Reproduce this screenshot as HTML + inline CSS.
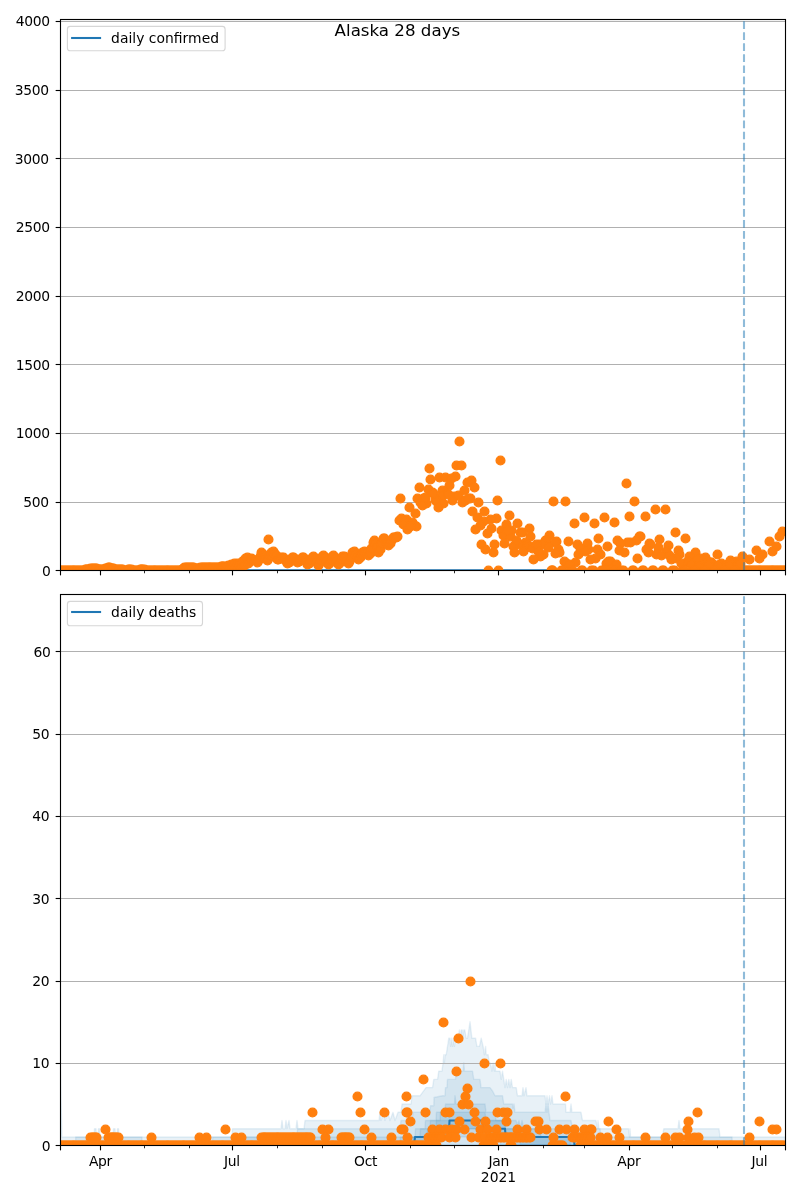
<!DOCTYPE html>
<html lang="en"><head><meta charset="utf-8"><title>Alaska 28 days</title>
<style>html,body{margin:0;padding:0;background:#fff;}svg{display:block;}text{font-family:"DejaVu Sans","Liberation Sans",sans-serif;fill:#000;}.t{letter-spacing:-0.38px}.m{letter-spacing:-0.3px}</style></head><body>
<svg width="800" height="1200" viewBox="0 0 800 1200">
<rect width="800" height="1200" fill="#fff"/>
<defs><clipPath id="c1"><rect x="60.2" y="19.4" width="725.1" height="550.8"/></clipPath><clipPath id="c2"><rect x="60.2" y="594.4" width="725.1" height="550.8"/></clipPath></defs>
<line x1="60.5" x2="785.5" y1="502.5" y2="502.5" stroke="#b0b0b0" stroke-width="1.11"/>
<line x1="60.5" x2="785.5" y1="433.5" y2="433.5" stroke="#b0b0b0" stroke-width="1.11"/>
<line x1="60.5" x2="785.5" y1="364.5" y2="364.5" stroke="#b0b0b0" stroke-width="1.11"/>
<line x1="60.5" x2="785.5" y1="296.5" y2="296.5" stroke="#b0b0b0" stroke-width="1.11"/>
<line x1="60.5" x2="785.5" y1="227.5" y2="227.5" stroke="#b0b0b0" stroke-width="1.11"/>
<line x1="60.5" x2="785.5" y1="158.5" y2="158.5" stroke="#b0b0b0" stroke-width="1.11"/>
<line x1="60.5" x2="785.5" y1="90.5" y2="90.5" stroke="#b0b0b0" stroke-width="1.11"/>
<line x1="60.5" x2="785.5" y1="21.5" y2="21.5" stroke="#b0b0b0" stroke-width="1.11"/>
<g clip-path="url(#c1)">
<line x1="60.5" x2="785.5" y1="570.2" y2="570.2" stroke="#1f77b4" stroke-width="2.08"/>
<g fill="#ff7f0e" stroke="#ff7f0e" stroke-width="1.39">
<circle cx="60.5" cy="570.5" r="4.36"/>
<circle cx="61.5" cy="570.5" r="4.36"/>
<circle cx="63.5" cy="570.5" r="4.36"/>
<circle cx="64.5" cy="570.5" r="4.36"/>
<circle cx="66.5" cy="570.5" r="4.36"/>
<circle cx="67.5" cy="570.5" r="4.36"/>
<circle cx="69.5" cy="570.5" r="4.36"/>
<circle cx="70.5" cy="570.5" r="4.36"/>
<circle cx="72.5" cy="570.5" r="4.36"/>
<circle cx="73.5" cy="570.5" r="4.36"/>
<circle cx="74.5" cy="570.5" r="4.36"/>
<circle cx="76.5" cy="570.5" r="4.36"/>
<circle cx="77.5" cy="570.5" r="4.36"/>
<circle cx="79.5" cy="570.5" r="4.36"/>
<circle cx="80.5" cy="570.5" r="4.36"/>
<circle cx="82.5" cy="570.5" r="4.36"/>
<circle cx="83.5" cy="570.5" r="4.36"/>
<circle cx="85.5" cy="569.5" r="4.36"/>
<circle cx="86.5" cy="569.5" r="4.36"/>
<circle cx="87.5" cy="569.5" r="4.36"/>
<circle cx="89.5" cy="569.5" r="4.36"/>
<circle cx="90.5" cy="568.5" r="4.36"/>
<circle cx="92.5" cy="568.5" r="4.36"/>
<circle cx="93.5" cy="568.5" r="4.36"/>
<circle cx="95.5" cy="568.5" r="4.36"/>
<circle cx="96.5" cy="568.5" r="4.36"/>
<circle cx="98.5" cy="569.5" r="4.36"/>
<circle cx="99.5" cy="569.5" r="4.36"/>
<circle cx="100.5" cy="569.5" r="4.36"/>
<circle cx="102.5" cy="569.5" r="4.36"/>
<circle cx="103.5" cy="569.5" r="4.36"/>
<circle cx="105.5" cy="568.5" r="4.36"/>
<circle cx="106.5" cy="568.5" r="4.36"/>
<circle cx="108.5" cy="567.5" r="4.36"/>
<circle cx="109.5" cy="567.5" r="4.36"/>
<circle cx="111.5" cy="568.5" r="4.36"/>
<circle cx="112.5" cy="568.5" r="4.36"/>
<circle cx="113.5" cy="568.5" r="4.36"/>
<circle cx="115.5" cy="569.5" r="4.36"/>
<circle cx="116.5" cy="569.5" r="4.36"/>
<circle cx="118.5" cy="569.5" r="4.36"/>
<circle cx="119.5" cy="569.5" r="4.36"/>
<circle cx="121.5" cy="569.5" r="4.36"/>
<circle cx="122.5" cy="569.5" r="4.36"/>
<circle cx="124.5" cy="570.5" r="4.36"/>
<circle cx="125.5" cy="570.5" r="4.36"/>
<circle cx="127.5" cy="570.5" r="4.36"/>
<circle cx="128.5" cy="569.5" r="4.36"/>
<circle cx="129.5" cy="569.5" r="4.36"/>
<circle cx="131.5" cy="569.5" r="4.36"/>
<circle cx="132.5" cy="570.5" r="4.36"/>
<circle cx="134.5" cy="570.5" r="4.36"/>
<circle cx="135.5" cy="570.5" r="4.36"/>
<circle cx="137.5" cy="570.5" r="4.36"/>
<circle cx="138.5" cy="570.5" r="4.36"/>
<circle cx="140.5" cy="569.5" r="4.36"/>
<circle cx="141.5" cy="569.5" r="4.36"/>
<circle cx="142.5" cy="569.5" r="4.36"/>
<circle cx="144.5" cy="569.5" r="4.36"/>
<circle cx="145.5" cy="570.5" r="4.36"/>
<circle cx="147.5" cy="570.5" r="4.36"/>
<circle cx="148.5" cy="570.5" r="4.36"/>
<circle cx="150.5" cy="570.5" r="4.36"/>
<circle cx="151.5" cy="570.5" r="4.36"/>
<circle cx="153.5" cy="570.5" r="4.36"/>
<circle cx="154.5" cy="570.5" r="4.36"/>
<circle cx="155.5" cy="570.5" r="4.36"/>
<circle cx="157.5" cy="570.5" r="4.36"/>
<circle cx="158.5" cy="570.5" r="4.36"/>
<circle cx="160.5" cy="570.5" r="4.36"/>
<circle cx="161.5" cy="570.5" r="4.36"/>
<circle cx="163.5" cy="570.5" r="4.36"/>
<circle cx="164.5" cy="570.5" r="4.36"/>
<circle cx="166.5" cy="570.5" r="4.36"/>
<circle cx="167.5" cy="570.5" r="4.36"/>
<circle cx="168.5" cy="570.5" r="4.36"/>
<circle cx="170.5" cy="570.5" r="4.36"/>
<circle cx="171.5" cy="570.5" r="4.36"/>
<circle cx="173.5" cy="570.5" r="4.36"/>
<circle cx="174.5" cy="570.5" r="4.36"/>
<circle cx="176.5" cy="570.5" r="4.36"/>
<circle cx="177.5" cy="570.5" r="4.36"/>
<circle cx="179.5" cy="570.5" r="4.36"/>
<circle cx="180.5" cy="570.5" r="4.36"/>
<circle cx="182.5" cy="569.5" r="4.36"/>
<circle cx="183.5" cy="568.5" r="4.36"/>
<circle cx="184.5" cy="567.5" r="4.36"/>
<circle cx="186.5" cy="567.5" r="4.36"/>
<circle cx="187.5" cy="567.5" r="4.36"/>
<circle cx="189.5" cy="567.5" r="4.36"/>
<circle cx="190.5" cy="567.5" r="4.36"/>
<circle cx="192.5" cy="567.5" r="4.36"/>
<circle cx="193.5" cy="567.5" r="4.36"/>
<circle cx="195.5" cy="568.5" r="4.36"/>
<circle cx="196.5" cy="568.5" r="4.36"/>
<circle cx="197.5" cy="568.5" r="4.36"/>
<circle cx="199.5" cy="568.5" r="4.36"/>
<circle cx="200.5" cy="567.5" r="4.36"/>
<circle cx="202.5" cy="567.5" r="4.36"/>
<circle cx="203.5" cy="567.5" r="4.36"/>
<circle cx="205.5" cy="567.5" r="4.36"/>
<circle cx="206.5" cy="567.5" r="4.36"/>
<circle cx="208.5" cy="567.5" r="4.36"/>
<circle cx="209.5" cy="567.5" r="4.36"/>
<circle cx="210.5" cy="567.5" r="4.36"/>
<circle cx="212.5" cy="567.5" r="4.36"/>
<circle cx="213.5" cy="567.5" r="4.36"/>
<circle cx="215.5" cy="567.5" r="4.36"/>
<circle cx="216.5" cy="567.5" r="4.36"/>
<circle cx="218.5" cy="567.5" r="4.36"/>
<circle cx="219.5" cy="567.5" r="4.36"/>
<circle cx="221.5" cy="566.5" r="4.36"/>
<circle cx="222.5" cy="566.5" r="4.36"/>
<circle cx="223.5" cy="566.5" r="4.36"/>
<circle cx="225.5" cy="566.5" r="4.36"/>
<circle cx="226.5" cy="568.5" r="4.36"/>
<circle cx="228.5" cy="565.5" r="4.36"/>
<circle cx="229.5" cy="568.5" r="4.36"/>
<circle cx="231.5" cy="564.5" r="4.36"/>
<circle cx="232.5" cy="567.5" r="4.36"/>
<circle cx="234.5" cy="563.5" r="4.36"/>
<circle cx="235.5" cy="567.5" r="4.36"/>
<circle cx="237.5" cy="563.5" r="4.36"/>
<circle cx="238.5" cy="567.5" r="4.36"/>
<circle cx="239.5" cy="564.5" r="4.36"/>
<circle cx="241.5" cy="567.5" r="4.36"/>
<circle cx="242.5" cy="561.5" r="4.36"/>
<circle cx="244.5" cy="565.5" r="4.36"/>
<circle cx="245.5" cy="558.5" r="4.36"/>
<circle cx="247.5" cy="557.5" r="4.36"/>
<circle cx="248.5" cy="563.5" r="4.36"/>
<circle cx="250.5" cy="560.5" r="4.36"/>
<circle cx="251.5" cy="558.5" r="4.36"/>
<circle cx="252.5" cy="559.5" r="4.36"/>
<circle cx="254.5" cy="560.5" r="4.36"/>
<circle cx="255.5" cy="560.5" r="4.36"/>
<circle cx="257.5" cy="562.5" r="4.36"/>
<circle cx="258.5" cy="560.5" r="4.36"/>
<circle cx="260.5" cy="556.5" r="4.36"/>
<circle cx="261.5" cy="552.5" r="4.36"/>
<circle cx="263.5" cy="554.5" r="4.36"/>
<circle cx="264.5" cy="556.5" r="4.36"/>
<circle cx="265.5" cy="558.5" r="4.36"/>
<circle cx="267.5" cy="560.5" r="4.36"/>
<circle cx="268.5" cy="558.5" r="4.36"/>
<circle cx="270.5" cy="555.5" r="4.36"/>
<circle cx="271.5" cy="552.5" r="4.36"/>
<circle cx="273.5" cy="551.5" r="4.36"/>
<circle cx="274.5" cy="553.5" r="4.36"/>
<circle cx="276.5" cy="555.5" r="4.36"/>
<circle cx="277.5" cy="559.5" r="4.36"/>
<circle cx="278.5" cy="559.5" r="4.36"/>
<circle cx="280.5" cy="558.5" r="4.36"/>
<circle cx="281.5" cy="557.5" r="4.36"/>
<circle cx="283.5" cy="557.5" r="4.36"/>
<circle cx="284.5" cy="559.5" r="4.36"/>
<circle cx="286.5" cy="561.5" r="4.36"/>
<circle cx="287.5" cy="563.5" r="4.36"/>
<circle cx="289.5" cy="562.5" r="4.36"/>
<circle cx="290.5" cy="559.5" r="4.36"/>
<circle cx="292.5" cy="557.5" r="4.36"/>
<circle cx="293.5" cy="557.5" r="4.36"/>
<circle cx="294.5" cy="558.5" r="4.36"/>
<circle cx="296.5" cy="560.5" r="4.36"/>
<circle cx="297.5" cy="562.5" r="4.36"/>
<circle cx="299.5" cy="561.5" r="4.36"/>
<circle cx="300.5" cy="559.5" r="4.36"/>
<circle cx="302.5" cy="557.5" r="4.36"/>
<circle cx="303.5" cy="557.5" r="4.36"/>
<circle cx="305.5" cy="559.5" r="4.36"/>
<circle cx="306.5" cy="561.5" r="4.36"/>
<circle cx="307.5" cy="564.5" r="4.36"/>
<circle cx="309.5" cy="563.5" r="4.36"/>
<circle cx="310.5" cy="560.5" r="4.36"/>
<circle cx="312.5" cy="557.5" r="4.36"/>
<circle cx="313.5" cy="556.5" r="4.36"/>
<circle cx="315.5" cy="558.5" r="4.36"/>
<circle cx="316.5" cy="561.5" r="4.36"/>
<circle cx="318.5" cy="565.5" r="4.36"/>
<circle cx="319.5" cy="563.5" r="4.36"/>
<circle cx="320.5" cy="560.5" r="4.36"/>
<circle cx="322.5" cy="556.5" r="4.36"/>
<circle cx="323.5" cy="555.5" r="4.36"/>
<circle cx="325.5" cy="557.5" r="4.36"/>
<circle cx="326.5" cy="560.5" r="4.36"/>
<circle cx="328.5" cy="564.5" r="4.36"/>
<circle cx="329.5" cy="563.5" r="4.36"/>
<circle cx="331.5" cy="560.5" r="4.36"/>
<circle cx="332.5" cy="556.5" r="4.36"/>
<circle cx="333.5" cy="555.5" r="4.36"/>
<circle cx="335.5" cy="558.5" r="4.36"/>
<circle cx="336.5" cy="560.5" r="4.36"/>
<circle cx="338.5" cy="564.5" r="4.36"/>
<circle cx="339.5" cy="563.5" r="4.36"/>
<circle cx="341.5" cy="559.5" r="4.36"/>
<circle cx="342.5" cy="556.5" r="4.36"/>
<circle cx="344.5" cy="556.5" r="4.36"/>
<circle cx="345.5" cy="557.5" r="4.36"/>
<circle cx="346.5" cy="560.5" r="4.36"/>
<circle cx="348.5" cy="563.5" r="4.36"/>
<circle cx="349.5" cy="561.5" r="4.36"/>
<circle cx="351.5" cy="557.5" r="4.36"/>
<circle cx="352.5" cy="552.5" r="4.36"/>
<circle cx="354.5" cy="551.5" r="4.36"/>
<circle cx="355.5" cy="554.5" r="4.36"/>
<circle cx="357.5" cy="556.5" r="4.36"/>
<circle cx="358.5" cy="559.5" r="4.36"/>
<circle cx="360.5" cy="557.5" r="4.36"/>
<circle cx="361.5" cy="554.5" r="4.36"/>
<circle cx="362.5" cy="552.5" r="4.36"/>
<circle cx="364.5" cy="551.5" r="4.36"/>
<circle cx="365.5" cy="552.5" r="4.36"/>
<circle cx="367.5" cy="552.5" r="4.36"/>
<circle cx="368.5" cy="555.5" r="4.36"/>
<circle cx="370.5" cy="553.5" r="4.36"/>
<circle cx="371.5" cy="548.5" r="4.36"/>
<circle cx="373.5" cy="542.5" r="4.36"/>
<circle cx="374.5" cy="540.5" r="4.36"/>
<circle cx="375.5" cy="543.5" r="4.36"/>
<circle cx="377.5" cy="546.5" r="4.36"/>
<circle cx="378.5" cy="552.5" r="4.36"/>
<circle cx="380.5" cy="549.5" r="4.36"/>
<circle cx="381.5" cy="543.5" r="4.36"/>
<circle cx="383.5" cy="538.5" r="4.36"/>
<circle cx="384.5" cy="538.5" r="4.36"/>
<circle cx="386.5" cy="542.5" r="4.36"/>
<circle cx="387.5" cy="543.5" r="4.36"/>
<circle cx="388.5" cy="545.5" r="4.36"/>
<circle cx="390.5" cy="543.5" r="4.36"/>
<circle cx="391.5" cy="540.5" r="4.36"/>
<circle cx="393.5" cy="537.5" r="4.36"/>
<circle cx="394.5" cy="537.5" r="4.36"/>
<circle cx="396.5" cy="537.5" r="4.36"/>
<circle cx="268.5" cy="539.5" r="4.36"/>
<circle cx="459.5" cy="441.5" r="4.36"/>
<circle cx="500.5" cy="460.5" r="4.36"/>
<circle cx="456.5" cy="465.5" r="4.36"/>
<circle cx="461.5" cy="465.5" r="4.36"/>
<circle cx="429.5" cy="468.5" r="4.36"/>
<circle cx="455.5" cy="476.5" r="4.36"/>
<circle cx="439.5" cy="477.5" r="4.36"/>
<circle cx="445.5" cy="477.5" r="4.36"/>
<circle cx="451.5" cy="478.5" r="4.36"/>
<circle cx="430.5" cy="479.5" r="4.36"/>
<circle cx="471.5" cy="480.5" r="4.36"/>
<circle cx="467.5" cy="482.5" r="4.36"/>
<circle cx="626.5" cy="483.5" r="4.36"/>
<circle cx="449.5" cy="485.5" r="4.36"/>
<circle cx="419.5" cy="487.5" r="4.36"/>
<circle cx="474.5" cy="487.5" r="4.36"/>
<circle cx="428.5" cy="489.5" r="4.36"/>
<circle cx="442.5" cy="490.5" r="4.36"/>
<circle cx="464.5" cy="490.5" r="4.36"/>
<circle cx="432.5" cy="492.5" r="4.36"/>
<circle cx="446.5" cy="493.5" r="4.36"/>
<circle cx="441.5" cy="496.5" r="4.36"/>
<circle cx="454.5" cy="496.5" r="4.36"/>
<circle cx="417.5" cy="498.5" r="4.36"/>
<circle cx="400.5" cy="498.5" r="4.36"/>
<circle cx="423.5" cy="498.5" r="4.36"/>
<circle cx="470.5" cy="498.5" r="4.36"/>
<circle cx="435.5" cy="499.5" r="4.36"/>
<circle cx="452.5" cy="500.5" r="4.36"/>
<circle cx="497.5" cy="500.5" r="4.36"/>
<circle cx="553.5" cy="501.5" r="4.36"/>
<circle cx="436.5" cy="501.5" r="4.36"/>
<circle cx="565.5" cy="501.5" r="4.36"/>
<circle cx="634.5" cy="501.5" r="4.36"/>
<circle cx="478.5" cy="502.5" r="4.36"/>
<circle cx="462.5" cy="502.5" r="4.36"/>
<circle cx="420.5" cy="502.5" r="4.36"/>
<circle cx="443.5" cy="503.5" r="4.36"/>
<circle cx="426.5" cy="503.5" r="4.36"/>
<circle cx="422.5" cy="505.5" r="4.36"/>
<circle cx="438.5" cy="507.5" r="4.36"/>
<circle cx="409.5" cy="507.5" r="4.36"/>
<circle cx="655.5" cy="509.5" r="4.36"/>
<circle cx="665.5" cy="509.5" r="4.36"/>
<circle cx="472.5" cy="511.5" r="4.36"/>
<circle cx="484.5" cy="511.5" r="4.36"/>
<circle cx="415.5" cy="513.5" r="4.36"/>
<circle cx="509.5" cy="515.5" r="4.36"/>
<circle cx="629.5" cy="516.5" r="4.36"/>
<circle cx="645.5" cy="516.5" r="4.36"/>
<circle cx="584.5" cy="517.5" r="4.36"/>
<circle cx="604.5" cy="517.5" r="4.36"/>
<circle cx="477.5" cy="517.5" r="4.36"/>
<circle cx="496.5" cy="518.5" r="4.36"/>
<circle cx="401.5" cy="518.5" r="4.36"/>
<circle cx="406.5" cy="519.5" r="4.36"/>
<circle cx="490.5" cy="519.5" r="4.36"/>
<circle cx="399.5" cy="520.5" r="4.36"/>
<circle cx="404.5" cy="521.5" r="4.36"/>
<circle cx="483.5" cy="521.5" r="4.36"/>
<circle cx="614.5" cy="522.5" r="4.36"/>
<circle cx="412.5" cy="522.5" r="4.36"/>
<circle cx="517.5" cy="523.5" r="4.36"/>
<circle cx="574.5" cy="523.5" r="4.36"/>
<circle cx="594.5" cy="523.5" r="4.36"/>
<circle cx="506.5" cy="524.5" r="4.36"/>
<circle cx="413.5" cy="524.5" r="4.36"/>
<circle cx="480.5" cy="525.5" r="4.36"/>
<circle cx="416.5" cy="526.5" r="4.36"/>
<circle cx="491.5" cy="528.5" r="4.36"/>
<circle cx="529.5" cy="528.5" r="4.36"/>
<circle cx="475.5" cy="529.5" r="4.36"/>
<circle cx="501.5" cy="530.5" r="4.36"/>
<circle cx="511.5" cy="530.5" r="4.36"/>
<circle cx="782.5" cy="531.5" r="4.36"/>
<circle cx="520.5" cy="532.5" r="4.36"/>
<circle cx="675.5" cy="532.5" r="4.36"/>
<circle cx="522.5" cy="532.5" r="4.36"/>
<circle cx="487.5" cy="533.5" r="4.36"/>
<circle cx="549.5" cy="535.5" r="4.36"/>
<circle cx="503.5" cy="535.5" r="4.36"/>
<circle cx="397.5" cy="536.5" r="4.36"/>
<circle cx="530.5" cy="536.5" r="4.36"/>
<circle cx="639.5" cy="536.5" r="4.36"/>
<circle cx="640.5" cy="536.5" r="4.36"/>
<circle cx="779.5" cy="536.5" r="4.36"/>
<circle cx="510.5" cy="536.5" r="4.36"/>
<circle cx="598.5" cy="538.5" r="4.36"/>
<circle cx="685.5" cy="538.5" r="4.36"/>
<circle cx="659.5" cy="539.5" r="4.36"/>
<circle cx="546.5" cy="540.5" r="4.36"/>
<circle cx="617.5" cy="540.5" r="4.36"/>
<circle cx="545.5" cy="540.5" r="4.36"/>
<circle cx="636.5" cy="540.5" r="4.36"/>
<circle cx="568.5" cy="541.5" r="4.36"/>
<circle cx="769.5" cy="541.5" r="4.36"/>
<circle cx="556.5" cy="541.5" r="4.36"/>
<circle cx="525.5" cy="542.5" r="4.36"/>
<circle cx="555.5" cy="542.5" r="4.36"/>
<circle cx="630.5" cy="542.5" r="4.36"/>
<circle cx="627.5" cy="542.5" r="4.36"/>
<circle cx="504.5" cy="543.5" r="4.36"/>
<circle cx="587.5" cy="543.5" r="4.36"/>
<circle cx="649.5" cy="543.5" r="4.36"/>
<circle cx="620.5" cy="543.5" r="4.36"/>
<circle cx="494.5" cy="544.5" r="4.36"/>
<circle cx="519.5" cy="544.5" r="4.36"/>
<circle cx="577.5" cy="544.5" r="4.36"/>
<circle cx="481.5" cy="544.5" r="4.36"/>
<circle cx="527.5" cy="544.5" r="4.36"/>
<circle cx="539.5" cy="544.5" r="4.36"/>
<circle cx="542.5" cy="544.5" r="4.36"/>
<circle cx="650.5" cy="544.5" r="4.36"/>
<circle cx="668.5" cy="545.5" r="4.36"/>
<circle cx="513.5" cy="546.5" r="4.36"/>
<circle cx="535.5" cy="546.5" r="4.36"/>
<circle cx="607.5" cy="546.5" r="4.36"/>
<circle cx="776.5" cy="546.5" r="4.36"/>
<circle cx="526.5" cy="547.5" r="4.36"/>
<circle cx="548.5" cy="547.5" r="4.36"/>
<circle cx="658.5" cy="547.5" r="4.36"/>
<circle cx="580.5" cy="548.5" r="4.36"/>
<circle cx="485.5" cy="549.5" r="4.36"/>
<circle cx="558.5" cy="549.5" r="4.36"/>
<circle cx="597.5" cy="549.5" r="4.36"/>
<circle cx="646.5" cy="549.5" r="4.36"/>
<circle cx="588.5" cy="549.5" r="4.36"/>
<circle cx="619.5" cy="550.5" r="4.36"/>
<circle cx="678.5" cy="550.5" r="4.36"/>
<circle cx="756.5" cy="550.5" r="4.36"/>
<circle cx="523.5" cy="551.5" r="4.36"/>
<circle cx="666.5" cy="551.5" r="4.36"/>
<circle cx="772.5" cy="551.5" r="4.36"/>
<circle cx="493.5" cy="552.5" r="4.36"/>
<circle cx="514.5" cy="552.5" r="4.36"/>
<circle cx="559.5" cy="552.5" r="4.36"/>
<circle cx="695.5" cy="552.5" r="4.36"/>
<circle cx="555.5" cy="553.5" r="4.36"/>
<circle cx="543.5" cy="554.5" r="4.36"/>
<circle cx="578.5" cy="554.5" r="4.36"/>
<circle cx="600.5" cy="554.5" r="4.36"/>
<circle cx="656.5" cy="554.5" r="4.36"/>
<circle cx="679.5" cy="554.5" r="4.36"/>
<circle cx="717.5" cy="554.5" r="4.36"/>
<circle cx="762.5" cy="554.5" r="4.36"/>
<circle cx="540.5" cy="556.5" r="4.36"/>
<circle cx="689.5" cy="556.5" r="4.36"/>
<circle cx="742.5" cy="556.5" r="4.36"/>
<circle cx="705.5" cy="557.5" r="4.36"/>
<circle cx="595.5" cy="558.5" r="4.36"/>
<circle cx="676.5" cy="558.5" r="4.36"/>
<circle cx="759.5" cy="558.5" r="4.36"/>
<circle cx="700.5" cy="558.5" r="4.36"/>
<circle cx="637.5" cy="558.5" r="4.36"/>
<circle cx="533.5" cy="559.5" r="4.36"/>
<circle cx="697.5" cy="559.5" r="4.36"/>
<circle cx="749.5" cy="559.5" r="4.36"/>
<circle cx="730.5" cy="560.5" r="4.36"/>
<circle cx="610.5" cy="561.5" r="4.36"/>
<circle cx="687.5" cy="561.5" r="4.36"/>
<circle cx="736.5" cy="561.5" r="4.36"/>
<circle cx="564.5" cy="561.5" r="4.36"/>
<circle cx="707.5" cy="561.5" r="4.36"/>
<circle cx="711.5" cy="562.5" r="4.36"/>
<circle cx="739.5" cy="562.5" r="4.36"/>
<circle cx="575.5" cy="562.5" r="4.36"/>
<circle cx="710.5" cy="562.5" r="4.36"/>
<circle cx="721.5" cy="563.5" r="4.36"/>
<circle cx="731.5" cy="563.5" r="4.36"/>
<circle cx="720.5" cy="564.5" r="4.36"/>
<circle cx="727.5" cy="564.5" r="4.36"/>
<circle cx="701.5" cy="565.5" r="4.36"/>
<circle cx="716.5" cy="565.5" r="4.36"/>
<circle cx="488.5" cy="570.5" r="4.36"/>
<circle cx="498.5" cy="570.5" r="4.36"/>
<circle cx="552.5" cy="570.5" r="4.36"/>
<circle cx="403.5" cy="524.5" r="4.36"/>
<circle cx="407.5" cy="529.5" r="4.36"/>
<circle cx="410.5" cy="526.5" r="4.36"/>
<circle cx="425.5" cy="497.5" r="4.36"/>
<circle cx="433.5" cy="493.5" r="4.36"/>
<circle cx="448.5" cy="494.5" r="4.36"/>
<circle cx="458.5" cy="495.5" r="4.36"/>
<circle cx="465.5" cy="500.5" r="4.36"/>
<circle cx="468.5" cy="498.5" r="4.36"/>
<circle cx="507.5" cy="530.5" r="4.36"/>
<circle cx="516.5" cy="540.5" r="4.36"/>
<circle cx="532.5" cy="548.5" r="4.36"/>
<circle cx="536.5" cy="544.5" r="4.36"/>
<circle cx="538.5" cy="551.5" r="4.36"/>
<circle cx="566.5" cy="563.5" r="4.36"/>
<circle cx="569.5" cy="564.5" r="4.36"/>
<circle cx="585.5" cy="551.5" r="4.36"/>
<circle cx="590.5" cy="559.5" r="4.36"/>
<circle cx="606.5" cy="563.5" r="4.36"/>
<circle cx="608.5" cy="561.5" r="4.36"/>
<circle cx="616.5" cy="564.5" r="4.36"/>
<circle cx="624.5" cy="552.5" r="4.36"/>
<circle cx="648.5" cy="552.5" r="4.36"/>
<circle cx="661.5" cy="555.5" r="4.36"/>
<circle cx="669.5" cy="555.5" r="4.36"/>
<circle cx="671.5" cy="559.5" r="4.36"/>
<circle cx="681.5" cy="563.5" r="4.36"/>
<circle cx="688.5" cy="562.5" r="4.36"/>
<circle cx="691.5" cy="564.5" r="4.36"/>
<circle cx="698.5" cy="566.5" r="4.36"/>
<circle cx="708.5" cy="565.5" r="4.36"/>
<circle cx="718.5" cy="565.5" r="4.36"/>
<circle cx="726.5" cy="566.5" r="4.36"/>
<circle cx="729.5" cy="565.5" r="4.36"/>
<circle cx="737.5" cy="565.5" r="4.36"/>
<circle cx="740.5" cy="563.5" r="4.36"/>
<circle cx="551.5" cy="570.5" r="4.36"/>
<circle cx="552.5" cy="570.5" r="4.36"/>
<circle cx="561.5" cy="570.5" r="4.36"/>
<circle cx="562.5" cy="570.5" r="4.36"/>
<circle cx="571.5" cy="570.5" r="4.36"/>
<circle cx="572.5" cy="570.5" r="4.36"/>
<circle cx="581.5" cy="570.5" r="4.36"/>
<circle cx="582.5" cy="570.5" r="4.36"/>
<circle cx="591.5" cy="570.5" r="4.36"/>
<circle cx="593.5" cy="570.5" r="4.36"/>
<circle cx="601.5" cy="570.5" r="4.36"/>
<circle cx="603.5" cy="570.5" r="4.36"/>
<circle cx="611.5" cy="570.5" r="4.36"/>
<circle cx="613.5" cy="570.5" r="4.36"/>
<circle cx="621.5" cy="570.5" r="4.36"/>
<circle cx="623.5" cy="570.5" r="4.36"/>
<circle cx="632.5" cy="570.5" r="4.36"/>
<circle cx="633.5" cy="570.5" r="4.36"/>
<circle cx="642.5" cy="570.5" r="4.36"/>
<circle cx="643.5" cy="570.5" r="4.36"/>
<circle cx="652.5" cy="570.5" r="4.36"/>
<circle cx="653.5" cy="570.5" r="4.36"/>
<circle cx="662.5" cy="570.5" r="4.36"/>
<circle cx="663.5" cy="570.5" r="4.36"/>
<circle cx="672.5" cy="570.5" r="4.36"/>
<circle cx="674.5" cy="570.5" r="4.36"/>
<circle cx="682.5" cy="570.5" r="4.36"/>
<circle cx="684.5" cy="570.5" r="4.36"/>
<circle cx="692.5" cy="570.5" r="4.36"/>
<circle cx="694.5" cy="570.5" r="4.36"/>
<circle cx="703.5" cy="570.5" r="4.36"/>
<circle cx="704.5" cy="570.5" r="4.36"/>
<circle cx="713.5" cy="570.5" r="4.36"/>
<circle cx="714.5" cy="570.5" r="4.36"/>
<circle cx="723.5" cy="570.5" r="4.36"/>
<circle cx="724.5" cy="570.5" r="4.36"/>
<circle cx="733.5" cy="570.5" r="4.36"/>
<circle cx="734.5" cy="570.5" r="4.36"/>
<circle cx="743.5" cy="570.5" r="4.36"/>
<circle cx="744.5" cy="570.5" r="4.36"/>
<circle cx="746.5" cy="570.5" r="4.36"/>
<circle cx="747.5" cy="570.5" r="4.36"/>
<circle cx="749.5" cy="570.5" r="4.36"/>
<circle cx="750.5" cy="570.5" r="4.36"/>
<circle cx="752.5" cy="570.5" r="4.36"/>
<circle cx="753.5" cy="570.5" r="4.36"/>
<circle cx="755.5" cy="570.5" r="4.36"/>
<circle cx="756.5" cy="570.5" r="4.36"/>
<circle cx="758.5" cy="570.5" r="4.36"/>
<circle cx="759.5" cy="570.5" r="4.36"/>
<circle cx="760.5" cy="570.5" r="4.36"/>
<circle cx="762.5" cy="570.5" r="4.36"/>
<circle cx="763.5" cy="570.5" r="4.36"/>
<circle cx="765.5" cy="570.5" r="4.36"/>
<circle cx="766.5" cy="570.5" r="4.36"/>
<circle cx="768.5" cy="570.5" r="4.36"/>
<circle cx="769.5" cy="570.5" r="4.36"/>
<circle cx="771.5" cy="570.5" r="4.36"/>
<circle cx="772.5" cy="570.5" r="4.36"/>
<circle cx="773.5" cy="570.5" r="4.36"/>
<circle cx="775.5" cy="570.5" r="4.36"/>
<circle cx="776.5" cy="570.5" r="4.36"/>
<circle cx="778.5" cy="570.5" r="4.36"/>
<circle cx="779.5" cy="570.5" r="4.36"/>
<circle cx="781.5" cy="570.5" r="4.36"/>
<circle cx="782.5" cy="570.5" r="4.36"/>
<circle cx="784.5" cy="570.5" r="4.36"/>
<circle cx="785.5" cy="570.5" r="4.36"/>
</g>
<line x1="744" x2="744" y1="569.95" y2="18.5" stroke="#1f77b4" stroke-opacity="0.5" stroke-width="2.08" stroke-dasharray="7.708 3.333"/>
</g>
<rect x="60.5" y="19.5" width="725" height="551" fill="none" stroke="#000" stroke-width="1.11"/>
<line x1="55.64" x2="60.5" y1="570.5" y2="570.5" stroke="#000" stroke-width="1.11"/>
<text class="t" x="50.5" y="576.1" font-size="13.889" text-anchor="end">0</text>
<line x1="55.64" x2="60.5" y1="502.5" y2="502.5" stroke="#000" stroke-width="1.11"/>
<text class="t" x="48.6" y="507.1" font-size="13.889" text-anchor="end">500</text>
<line x1="55.64" x2="60.5" y1="433.5" y2="433.5" stroke="#000" stroke-width="1.11"/>
<text class="t" x="49.6" y="438.1" font-size="13.889" text-anchor="end">1000</text>
<line x1="55.64" x2="60.5" y1="364.5" y2="364.5" stroke="#000" stroke-width="1.11"/>
<text class="t" x="49.6" y="370.1" font-size="13.889" text-anchor="end">1500</text>
<line x1="55.64" x2="60.5" y1="296.5" y2="296.5" stroke="#000" stroke-width="1.11"/>
<text class="t" x="49.6" y="301.1" font-size="13.889" text-anchor="end">2000</text>
<line x1="55.64" x2="60.5" y1="227.5" y2="227.5" stroke="#000" stroke-width="1.11"/>
<text class="t" x="49.6" y="232.1" font-size="13.889" text-anchor="end">2500</text>
<line x1="55.64" x2="60.5" y1="158.5" y2="158.5" stroke="#000" stroke-width="1.11"/>
<text class="t" x="48.6" y="164.1" font-size="13.889" text-anchor="end">3000</text>
<line x1="55.64" x2="60.5" y1="90.5" y2="90.5" stroke="#000" stroke-width="1.11"/>
<text class="t" x="48.6" y="95.1" font-size="13.889" text-anchor="end">3500</text>
<line x1="55.64" x2="60.5" y1="21.5" y2="21.5" stroke="#000" stroke-width="1.11"/>
<text class="t" x="49.6" y="26.1" font-size="13.889" text-anchor="end">4000</text>
<line x1="60.5" x2="60.5" y1="570.5" y2="575.36" stroke="#000" stroke-width="1.11"/>
<line x1="100.5" x2="100.5" y1="570.5" y2="575.36" stroke="#000" stroke-width="1.11"/>
<line x1="144.5" x2="144.5" y1="570.5" y2="573.28" stroke="#000" stroke-width="0.83"/>
<line x1="189.5" x2="189.5" y1="570.5" y2="573.28" stroke="#000" stroke-width="0.83"/>
<line x1="232.5" x2="232.5" y1="570.5" y2="575.36" stroke="#000" stroke-width="1.11"/>
<line x1="277.5" x2="277.5" y1="570.5" y2="573.28" stroke="#000" stroke-width="0.83"/>
<line x1="322.5" x2="322.5" y1="570.5" y2="573.28" stroke="#000" stroke-width="0.83"/>
<line x1="365.5" x2="365.5" y1="570.5" y2="575.36" stroke="#000" stroke-width="1.11"/>
<line x1="410.5" x2="410.5" y1="570.5" y2="573.28" stroke="#000" stroke-width="0.83"/>
<line x1="454.5" x2="454.5" y1="570.5" y2="573.28" stroke="#000" stroke-width="0.83"/>
<line x1="498.5" x2="498.5" y1="570.5" y2="575.36" stroke="#000" stroke-width="1.11"/>
<line x1="543.5" x2="543.5" y1="570.5" y2="573.28" stroke="#000" stroke-width="0.83"/>
<line x1="584.5" x2="584.5" y1="570.5" y2="573.28" stroke="#000" stroke-width="0.83"/>
<line x1="629.5" x2="629.5" y1="570.5" y2="575.36" stroke="#000" stroke-width="1.11"/>
<line x1="672.5" x2="672.5" y1="570.5" y2="573.28" stroke="#000" stroke-width="0.83"/>
<line x1="717.5" x2="717.5" y1="570.5" y2="573.28" stroke="#000" stroke-width="0.83"/>
<line x1="760.5" x2="760.5" y1="570.5" y2="575.36" stroke="#000" stroke-width="1.11"/>
<line x1="785.5" x2="785.5" y1="570.5" y2="575.36" stroke="#000" stroke-width="1.11"/>
<rect x="67.4" y="26.4" width="157.7" height="24.4" rx="2.8" ry="2.8" fill="#fff" fill-opacity="0.8" stroke="#ccc" stroke-opacity="0.8" stroke-width="1.11"/>
<line x1="71.1" x2="101.1" y1="38" y2="38" stroke="#1f77b4" stroke-width="2.08"/>
<text x="111.1" y="42.9" font-size="13.889" textLength="107.9" lengthAdjust="spacing">daily confirmed</text>
<g clip-path="url(#c2)">
<polygon points="60.4,1071.1 61.9,1137.0 94.0,1137.0 94.5,1128.7 96.0,1128.7 96.5,1137.0 98.0,1137.0 98.5,1128.7 99.5,1128.7 100.0,1137.0 113.0,1137.0 113.5,1128.7 115.0,1128.7 115.5,1137.0 117.0,1137.0 117.5,1128.7 118.5,1128.7 119.0,1137.0 232.0,1137.0 232.5,1128.7 281.0,1128.7 282.0,1120.5 283.0,1128.7 285.0,1128.7 286.0,1120.5 287.0,1128.7 289.0,1120.5 290.0,1128.7 296.0,1128.7 297.0,1120.5 298.0,1128.7 304.0,1128.7 305.0,1120.5 306.0,1120.5 379.0,1120.5 380.0,1112.3 381.0,1120.5 384.0,1112.3 385.0,1120.5 388.0,1112.3 390.0,1120.5 393.0,1112.3 395.0,1120.5 398.0,1112.3 401.0,1112.3 402.0,1104.0 411.0,1104.0 412.0,1095.8 420.0,1095.8 426.0,1087.6 430.0,1087.6 432.5,1087.6 433.8,1079.4 437.5,1079.4 438.8,1071.1 441.9,1071.1 443.1,1062.9 443.8,1054.7 444.4,1062.9 445.0,1054.7 446.2,1054.7 448.8,1038.2 450.0,1038.2 450.6,1046.4 451.5,1038.2 452.5,1046.4 453.4,1038.2 454.4,1046.4 455.5,1038.2 458.0,1038.2 459.4,1030.0 460.6,1038.2 461.2,1030.0 462.2,1030.0 462.8,1038.2 463.8,1030.0 464.8,1030.0 466.2,1038.2 467.5,1038.2 470.0,1021.8 471.9,1038.2 475.6,1038.2 476.9,1046.4 479.4,1046.4 481.2,1038.2 483.1,1046.4 484.4,1054.7 485.6,1046.4 486.2,1054.7 488.1,1054.7 489.4,1062.9 490.6,1062.9 491.9,1071.1 493.1,1062.9 494.4,1071.1 495.0,1062.9 495.6,1071.1 500.0,1071.1 501.2,1079.4 502.5,1071.1 503.8,1079.4 505.0,1087.6 506.2,1079.4 507.5,1087.6 508.8,1079.4 510.0,1087.6 511.2,1079.4 512.5,1087.6 516.2,1087.6 517.5,1095.8 518.8,1095.8 522.0,1095.8 523.0,1087.6 524.0,1095.8 526.0,1087.6 527.0,1095.8 545.0,1095.8 546.0,1104.0 547.0,1095.8 548.0,1104.0 549.5,1095.8 550.5,1104.0 552.0,1095.8 553.0,1104.0 565.5,1104.0 566.0,1112.3 570.0,1112.3 571.0,1104.0 572.0,1112.3 581.0,1112.3 582.5,1120.5 596.0,1120.5 597.5,1128.7 598.0,1120.5 599.0,1128.7 628.5,1128.7 629.5,1137.0 630.0,1128.7 630.5,1137.0 662.5,1137.0 663.8,1128.7 678.0,1128.7 679.0,1120.5 680.0,1128.7 719.0,1128.7 720.0,1137.0 785.5,1137.0 785.5,1145.2 60.4,1145.2" fill="#1f77b4" fill-opacity="0.1" stroke="#1f77b4" stroke-opacity="0.1" stroke-width="1.39" stroke-linejoin="round"/>
<polygon points="60.5,1145.2 75.6,1145.2 75.7,1137.0 142.0,1137.0 142.1,1145.2 212.5,1145.2 212.6,1137.0 297.0,1137.0 297.5,1128.7 400.0,1128.7 401.0,1120.5 412.0,1120.5 413.0,1112.3 430.0,1112.3 430.5,1105.7 433.8,1105.7 434.0,1097.5 442.5,1095.8 445.0,1095.8 445.5,1087.6 447.0,1087.6 447.5,1079.4 455.5,1079.4 456.0,1071.1 463.0,1071.1 463.8,1062.9 464.5,1071.1 472.5,1071.1 473.8,1079.4 480.0,1079.4 481.0,1087.6 490.0,1087.6 492.5,1090.9 495.0,1095.8 502.5,1095.8 503.8,1104.0 512.5,1104.0 513.0,1108.2 514.0,1104.0 515.0,1112.3 545.0,1112.3 546.0,1104.0 547.0,1112.3 548.0,1104.0 549.0,1112.3 550.0,1120.5 571.0,1120.5 572.5,1128.7 600.0,1128.7 601.0,1137.0 732.0,1137.0 732.5,1145.2 785.5,1145.2 785.5,1145.2 60.5,1145.2" fill="#1f77b4" fill-opacity="0.1" stroke="#1f77b4" stroke-opacity="0.1" stroke-width="1.39" stroke-linejoin="round"/>
<polygon points="240.0,1145.2 240.1,1137.0 400.0,1137.0 415.0,1137.0 415.5,1128.7 425.0,1128.7 425.5,1120.5 436.0,1120.5 436.5,1112.3 445.0,1112.3 445.5,1104.0 454.5,1104.0 455.0,1095.8 456.0,1104.0 485.0,1104.0 486.0,1112.3 495.0,1112.3 496.0,1120.5 516.0,1120.5 517.5,1124.6 519.0,1120.5 520.5,1128.7 522.0,1120.5 523.8,1128.7 571.0,1128.7 572.0,1137.0 600.0,1137.0 600.5,1145.2 600.5,1145.2 500.5,1145.2 500.0,1137.0 440.5,1137.0 440.0,1145.2 240.0,1145.2" fill="#1f77b4" fill-opacity="0.1" stroke="#1f77b4" stroke-opacity="0.1" stroke-width="1.39" stroke-linejoin="round"/>
<polygon points="400.0,1145.2 400.5,1137.0 420.0,1137.0 420.5,1128.7 430.0,1128.7 430.5,1120.5 440.0,1120.5 440.5,1112.3 485.0,1112.3 486.0,1120.5 490.0,1120.5 491.0,1120.5 505.0,1120.5 505.5,1128.7 540.0,1128.7 541.0,1137.0 560.0,1137.0 575.0,1137.0 575.5,1145.2 575.5,1145.2 510.5,1145.2 510.0,1137.0 482.5,1137.0 482.0,1128.7 446.5,1128.7 446.0,1137.0 436.5,1137.0 436.0,1145.2 400.0,1145.2" fill="#1f77b4" fill-opacity="0.1" stroke="#1f77b4" stroke-opacity="0.1" stroke-width="1.39" stroke-linejoin="round"/>
<polygon points="406.0,1145.2 406.5,1137.0 427.0,1137.0 427.5,1128.7 436.0,1128.7 436.5,1120.5 505.0,1120.5 505.5,1128.7 520.0,1128.7 520.5,1137.0 570.0,1137.0 570.5,1145.2 570.5,1145.2 520.5,1145.2 520.0,1137.0 482.5,1137.0 482.0,1128.7 446.5,1128.7 446.0,1137.0 430.5,1137.0 430.0,1145.2 406.0,1145.2" fill="#1f77b4" fill-opacity="0.1" stroke="#1f77b4" stroke-opacity="0.1" stroke-width="1.39" stroke-linejoin="round"/>

</g>
<line x1="60.5" x2="785.5" y1="1063.5" y2="1063.5" stroke="#b0b0b0" stroke-width="1.11"/>
<line x1="60.5" x2="785.5" y1="981.5" y2="981.5" stroke="#b0b0b0" stroke-width="1.11"/>
<line x1="60.5" x2="785.5" y1="898.5" y2="898.5" stroke="#b0b0b0" stroke-width="1.11"/>
<line x1="60.5" x2="785.5" y1="816.5" y2="816.5" stroke="#b0b0b0" stroke-width="1.11"/>
<line x1="60.5" x2="785.5" y1="734.5" y2="734.5" stroke="#b0b0b0" stroke-width="1.11"/>
<line x1="60.5" x2="785.5" y1="651.5" y2="651.5" stroke="#b0b0b0" stroke-width="1.11"/>
<g clip-path="url(#c2)">

<polyline fill="none" stroke="#1f77b4" stroke-width="2.08" stroke-linejoin="round" points="60.5,1145.2 414.0,1145.2 415.0,1137.0 448.8,1137.0 449.5,1120.5 482.5,1120.5 483.2,1128.7 505.0,1128.7 505.7,1137.0 573.8,1137.0 574.5,1145.2 785.5,1145.2"/>
<g fill="#ff7f0e" stroke="#ff7f0e" stroke-width="1.39">
<circle cx="60.5" cy="1145.5" r="4.36"/>
<circle cx="61.5" cy="1145.5" r="4.36"/>
<circle cx="63.5" cy="1145.5" r="4.36"/>
<circle cx="64.5" cy="1145.5" r="4.36"/>
<circle cx="66.5" cy="1145.5" r="4.36"/>
<circle cx="67.5" cy="1145.5" r="4.36"/>
<circle cx="69.5" cy="1145.5" r="4.36"/>
<circle cx="70.5" cy="1145.5" r="4.36"/>
<circle cx="72.5" cy="1145.5" r="4.36"/>
<circle cx="73.5" cy="1145.5" r="4.36"/>
<circle cx="74.5" cy="1145.5" r="4.36"/>
<circle cx="76.5" cy="1145.5" r="4.36"/>
<circle cx="77.5" cy="1145.5" r="4.36"/>
<circle cx="79.5" cy="1145.5" r="4.36"/>
<circle cx="80.5" cy="1145.5" r="4.36"/>
<circle cx="82.5" cy="1145.5" r="4.36"/>
<circle cx="83.5" cy="1145.5" r="4.36"/>
<circle cx="85.5" cy="1145.5" r="4.36"/>
<circle cx="86.5" cy="1145.5" r="4.36"/>
<circle cx="87.5" cy="1145.5" r="4.36"/>
<circle cx="89.5" cy="1145.5" r="4.36"/>
<circle cx="90.5" cy="1145.5" r="4.36"/>
<circle cx="92.5" cy="1145.5" r="4.36"/>
<circle cx="93.5" cy="1145.5" r="4.36"/>
<circle cx="95.5" cy="1145.5" r="4.36"/>
<circle cx="96.5" cy="1145.5" r="4.36"/>
<circle cx="98.5" cy="1145.5" r="4.36"/>
<circle cx="99.5" cy="1145.5" r="4.36"/>
<circle cx="100.5" cy="1145.5" r="4.36"/>
<circle cx="102.5" cy="1145.5" r="4.36"/>
<circle cx="103.5" cy="1145.5" r="4.36"/>
<circle cx="105.5" cy="1145.5" r="4.36"/>
<circle cx="106.5" cy="1145.5" r="4.36"/>
<circle cx="108.5" cy="1145.5" r="4.36"/>
<circle cx="109.5" cy="1145.5" r="4.36"/>
<circle cx="111.5" cy="1145.5" r="4.36"/>
<circle cx="112.5" cy="1145.5" r="4.36"/>
<circle cx="113.5" cy="1145.5" r="4.36"/>
<circle cx="115.5" cy="1145.5" r="4.36"/>
<circle cx="116.5" cy="1145.5" r="4.36"/>
<circle cx="118.5" cy="1145.5" r="4.36"/>
<circle cx="119.5" cy="1145.5" r="4.36"/>
<circle cx="121.5" cy="1145.5" r="4.36"/>
<circle cx="122.5" cy="1145.5" r="4.36"/>
<circle cx="124.5" cy="1145.5" r="4.36"/>
<circle cx="125.5" cy="1145.5" r="4.36"/>
<circle cx="127.5" cy="1145.5" r="4.36"/>
<circle cx="128.5" cy="1145.5" r="4.36"/>
<circle cx="129.5" cy="1145.5" r="4.36"/>
<circle cx="131.5" cy="1145.5" r="4.36"/>
<circle cx="132.5" cy="1145.5" r="4.36"/>
<circle cx="134.5" cy="1145.5" r="4.36"/>
<circle cx="135.5" cy="1145.5" r="4.36"/>
<circle cx="137.5" cy="1145.5" r="4.36"/>
<circle cx="138.5" cy="1145.5" r="4.36"/>
<circle cx="140.5" cy="1145.5" r="4.36"/>
<circle cx="141.5" cy="1145.5" r="4.36"/>
<circle cx="142.5" cy="1145.5" r="4.36"/>
<circle cx="144.5" cy="1145.5" r="4.36"/>
<circle cx="145.5" cy="1145.5" r="4.36"/>
<circle cx="147.5" cy="1145.5" r="4.36"/>
<circle cx="148.5" cy="1145.5" r="4.36"/>
<circle cx="150.5" cy="1145.5" r="4.36"/>
<circle cx="151.5" cy="1145.5" r="4.36"/>
<circle cx="153.5" cy="1145.5" r="4.36"/>
<circle cx="154.5" cy="1145.5" r="4.36"/>
<circle cx="155.5" cy="1145.5" r="4.36"/>
<circle cx="157.5" cy="1145.5" r="4.36"/>
<circle cx="158.5" cy="1145.5" r="4.36"/>
<circle cx="160.5" cy="1145.5" r="4.36"/>
<circle cx="161.5" cy="1145.5" r="4.36"/>
<circle cx="163.5" cy="1145.5" r="4.36"/>
<circle cx="164.5" cy="1145.5" r="4.36"/>
<circle cx="166.5" cy="1145.5" r="4.36"/>
<circle cx="167.5" cy="1145.5" r="4.36"/>
<circle cx="168.5" cy="1145.5" r="4.36"/>
<circle cx="170.5" cy="1145.5" r="4.36"/>
<circle cx="171.5" cy="1145.5" r="4.36"/>
<circle cx="173.5" cy="1145.5" r="4.36"/>
<circle cx="174.5" cy="1145.5" r="4.36"/>
<circle cx="176.5" cy="1145.5" r="4.36"/>
<circle cx="177.5" cy="1145.5" r="4.36"/>
<circle cx="179.5" cy="1145.5" r="4.36"/>
<circle cx="180.5" cy="1145.5" r="4.36"/>
<circle cx="182.5" cy="1145.5" r="4.36"/>
<circle cx="183.5" cy="1145.5" r="4.36"/>
<circle cx="184.5" cy="1145.5" r="4.36"/>
<circle cx="186.5" cy="1145.5" r="4.36"/>
<circle cx="187.5" cy="1145.5" r="4.36"/>
<circle cx="189.5" cy="1145.5" r="4.36"/>
<circle cx="190.5" cy="1145.5" r="4.36"/>
<circle cx="192.5" cy="1145.5" r="4.36"/>
<circle cx="193.5" cy="1145.5" r="4.36"/>
<circle cx="195.5" cy="1145.5" r="4.36"/>
<circle cx="196.5" cy="1145.5" r="4.36"/>
<circle cx="197.5" cy="1145.5" r="4.36"/>
<circle cx="199.5" cy="1145.5" r="4.36"/>
<circle cx="200.5" cy="1145.5" r="4.36"/>
<circle cx="202.5" cy="1145.5" r="4.36"/>
<circle cx="203.5" cy="1145.5" r="4.36"/>
<circle cx="205.5" cy="1145.5" r="4.36"/>
<circle cx="206.5" cy="1145.5" r="4.36"/>
<circle cx="208.5" cy="1145.5" r="4.36"/>
<circle cx="209.5" cy="1145.5" r="4.36"/>
<circle cx="210.5" cy="1145.5" r="4.36"/>
<circle cx="212.5" cy="1145.5" r="4.36"/>
<circle cx="213.5" cy="1145.5" r="4.36"/>
<circle cx="215.5" cy="1145.5" r="4.36"/>
<circle cx="216.5" cy="1145.5" r="4.36"/>
<circle cx="218.5" cy="1145.5" r="4.36"/>
<circle cx="219.5" cy="1145.5" r="4.36"/>
<circle cx="221.5" cy="1145.5" r="4.36"/>
<circle cx="222.5" cy="1145.5" r="4.36"/>
<circle cx="223.5" cy="1145.5" r="4.36"/>
<circle cx="225.5" cy="1145.5" r="4.36"/>
<circle cx="226.5" cy="1145.5" r="4.36"/>
<circle cx="228.5" cy="1145.5" r="4.36"/>
<circle cx="229.5" cy="1145.5" r="4.36"/>
<circle cx="231.5" cy="1145.5" r="4.36"/>
<circle cx="232.5" cy="1145.5" r="4.36"/>
<circle cx="234.5" cy="1145.5" r="4.36"/>
<circle cx="235.5" cy="1145.5" r="4.36"/>
<circle cx="237.5" cy="1145.5" r="4.36"/>
<circle cx="238.5" cy="1145.5" r="4.36"/>
<circle cx="239.5" cy="1145.5" r="4.36"/>
<circle cx="241.5" cy="1145.5" r="4.36"/>
<circle cx="242.5" cy="1145.5" r="4.36"/>
<circle cx="244.5" cy="1145.5" r="4.36"/>
<circle cx="245.5" cy="1145.5" r="4.36"/>
<circle cx="247.5" cy="1145.5" r="4.36"/>
<circle cx="248.5" cy="1145.5" r="4.36"/>
<circle cx="250.5" cy="1145.5" r="4.36"/>
<circle cx="251.5" cy="1145.5" r="4.36"/>
<circle cx="252.5" cy="1145.5" r="4.36"/>
<circle cx="254.5" cy="1145.5" r="4.36"/>
<circle cx="255.5" cy="1145.5" r="4.36"/>
<circle cx="257.5" cy="1145.5" r="4.36"/>
<circle cx="258.5" cy="1145.5" r="4.36"/>
<circle cx="260.5" cy="1145.5" r="4.36"/>
<circle cx="261.5" cy="1145.5" r="4.36"/>
<circle cx="263.5" cy="1145.5" r="4.36"/>
<circle cx="264.5" cy="1145.5" r="4.36"/>
<circle cx="265.5" cy="1145.5" r="4.36"/>
<circle cx="267.5" cy="1145.5" r="4.36"/>
<circle cx="268.5" cy="1145.5" r="4.36"/>
<circle cx="270.5" cy="1145.5" r="4.36"/>
<circle cx="271.5" cy="1145.5" r="4.36"/>
<circle cx="273.5" cy="1145.5" r="4.36"/>
<circle cx="274.5" cy="1145.5" r="4.36"/>
<circle cx="276.5" cy="1145.5" r="4.36"/>
<circle cx="277.5" cy="1145.5" r="4.36"/>
<circle cx="278.5" cy="1145.5" r="4.36"/>
<circle cx="280.5" cy="1145.5" r="4.36"/>
<circle cx="281.5" cy="1145.5" r="4.36"/>
<circle cx="283.5" cy="1145.5" r="4.36"/>
<circle cx="284.5" cy="1145.5" r="4.36"/>
<circle cx="286.5" cy="1145.5" r="4.36"/>
<circle cx="287.5" cy="1145.5" r="4.36"/>
<circle cx="289.5" cy="1145.5" r="4.36"/>
<circle cx="290.5" cy="1145.5" r="4.36"/>
<circle cx="292.5" cy="1145.5" r="4.36"/>
<circle cx="293.5" cy="1145.5" r="4.36"/>
<circle cx="294.5" cy="1145.5" r="4.36"/>
<circle cx="296.5" cy="1145.5" r="4.36"/>
<circle cx="297.5" cy="1145.5" r="4.36"/>
<circle cx="299.5" cy="1145.5" r="4.36"/>
<circle cx="300.5" cy="1145.5" r="4.36"/>
<circle cx="302.5" cy="1145.5" r="4.36"/>
<circle cx="303.5" cy="1145.5" r="4.36"/>
<circle cx="305.5" cy="1145.5" r="4.36"/>
<circle cx="306.5" cy="1145.5" r="4.36"/>
<circle cx="307.5" cy="1145.5" r="4.36"/>
<circle cx="309.5" cy="1145.5" r="4.36"/>
<circle cx="310.5" cy="1145.5" r="4.36"/>
<circle cx="312.5" cy="1145.5" r="4.36"/>
<circle cx="313.5" cy="1145.5" r="4.36"/>
<circle cx="315.5" cy="1145.5" r="4.36"/>
<circle cx="316.5" cy="1145.5" r="4.36"/>
<circle cx="318.5" cy="1145.5" r="4.36"/>
<circle cx="319.5" cy="1145.5" r="4.36"/>
<circle cx="320.5" cy="1145.5" r="4.36"/>
<circle cx="322.5" cy="1145.5" r="4.36"/>
<circle cx="323.5" cy="1145.5" r="4.36"/>
<circle cx="325.5" cy="1145.5" r="4.36"/>
<circle cx="326.5" cy="1145.5" r="4.36"/>
<circle cx="328.5" cy="1145.5" r="4.36"/>
<circle cx="329.5" cy="1145.5" r="4.36"/>
<circle cx="331.5" cy="1145.5" r="4.36"/>
<circle cx="332.5" cy="1145.5" r="4.36"/>
<circle cx="333.5" cy="1145.5" r="4.36"/>
<circle cx="335.5" cy="1145.5" r="4.36"/>
<circle cx="336.5" cy="1145.5" r="4.36"/>
<circle cx="338.5" cy="1145.5" r="4.36"/>
<circle cx="339.5" cy="1145.5" r="4.36"/>
<circle cx="341.5" cy="1145.5" r="4.36"/>
<circle cx="342.5" cy="1145.5" r="4.36"/>
<circle cx="344.5" cy="1145.5" r="4.36"/>
<circle cx="345.5" cy="1145.5" r="4.36"/>
<circle cx="346.5" cy="1145.5" r="4.36"/>
<circle cx="348.5" cy="1145.5" r="4.36"/>
<circle cx="349.5" cy="1145.5" r="4.36"/>
<circle cx="351.5" cy="1145.5" r="4.36"/>
<circle cx="352.5" cy="1145.5" r="4.36"/>
<circle cx="354.5" cy="1145.5" r="4.36"/>
<circle cx="355.5" cy="1145.5" r="4.36"/>
<circle cx="357.5" cy="1145.5" r="4.36"/>
<circle cx="358.5" cy="1145.5" r="4.36"/>
<circle cx="360.5" cy="1145.5" r="4.36"/>
<circle cx="361.5" cy="1145.5" r="4.36"/>
<circle cx="362.5" cy="1145.5" r="4.36"/>
<circle cx="364.5" cy="1145.5" r="4.36"/>
<circle cx="365.5" cy="1145.5" r="4.36"/>
<circle cx="367.5" cy="1145.5" r="4.36"/>
<circle cx="368.5" cy="1145.5" r="4.36"/>
<circle cx="370.5" cy="1145.5" r="4.36"/>
<circle cx="371.5" cy="1145.5" r="4.36"/>
<circle cx="373.5" cy="1145.5" r="4.36"/>
<circle cx="374.5" cy="1145.5" r="4.36"/>
<circle cx="375.5" cy="1145.5" r="4.36"/>
<circle cx="377.5" cy="1145.5" r="4.36"/>
<circle cx="378.5" cy="1145.5" r="4.36"/>
<circle cx="380.5" cy="1145.5" r="4.36"/>
<circle cx="381.5" cy="1145.5" r="4.36"/>
<circle cx="383.5" cy="1145.5" r="4.36"/>
<circle cx="384.5" cy="1145.5" r="4.36"/>
<circle cx="386.5" cy="1145.5" r="4.36"/>
<circle cx="387.5" cy="1145.5" r="4.36"/>
<circle cx="388.5" cy="1145.5" r="4.36"/>
<circle cx="390.5" cy="1145.5" r="4.36"/>
<circle cx="391.5" cy="1145.5" r="4.36"/>
<circle cx="393.5" cy="1145.5" r="4.36"/>
<circle cx="394.5" cy="1145.5" r="4.36"/>
<circle cx="396.5" cy="1145.5" r="4.36"/>
<circle cx="397.5" cy="1145.5" r="4.36"/>
<circle cx="399.5" cy="1145.5" r="4.36"/>
<circle cx="400.5" cy="1145.5" r="4.36"/>
<circle cx="401.5" cy="1145.5" r="4.36"/>
<circle cx="403.5" cy="1145.5" r="4.36"/>
<circle cx="404.5" cy="1145.5" r="4.36"/>
<circle cx="406.5" cy="1145.5" r="4.36"/>
<circle cx="407.5" cy="1145.5" r="4.36"/>
<circle cx="409.5" cy="1145.5" r="4.36"/>
<circle cx="410.5" cy="1145.5" r="4.36"/>
<circle cx="412.5" cy="1145.5" r="4.36"/>
<circle cx="413.5" cy="1145.5" r="4.36"/>
<circle cx="415.5" cy="1145.5" r="4.36"/>
<circle cx="416.5" cy="1145.5" r="4.36"/>
<circle cx="417.5" cy="1145.5" r="4.36"/>
<circle cx="419.5" cy="1145.5" r="4.36"/>
<circle cx="420.5" cy="1145.5" r="4.36"/>
<circle cx="422.5" cy="1145.5" r="4.36"/>
<circle cx="423.5" cy="1145.5" r="4.36"/>
<circle cx="425.5" cy="1145.5" r="4.36"/>
<circle cx="426.5" cy="1145.5" r="4.36"/>
<circle cx="428.5" cy="1145.5" r="4.36"/>
<circle cx="429.5" cy="1145.5" r="4.36"/>
<circle cx="430.5" cy="1145.5" r="4.36"/>
<circle cx="432.5" cy="1145.5" r="4.36"/>
<circle cx="433.5" cy="1145.5" r="4.36"/>
<circle cx="435.5" cy="1145.5" r="4.36"/>
<circle cx="436.5" cy="1145.5" r="4.36"/>
<circle cx="483.5" cy="1145.5" r="4.36"/>
<circle cx="484.5" cy="1145.5" r="4.36"/>
<circle cx="485.5" cy="1145.5" r="4.36"/>
<circle cx="487.5" cy="1145.5" r="4.36"/>
<circle cx="488.5" cy="1145.5" r="4.36"/>
<circle cx="490.5" cy="1145.5" r="4.36"/>
<circle cx="491.5" cy="1145.5" r="4.36"/>
<circle cx="493.5" cy="1145.5" r="4.36"/>
<circle cx="510.5" cy="1145.5" r="4.36"/>
<circle cx="511.5" cy="1145.5" r="4.36"/>
<circle cx="552.5" cy="1145.5" r="4.36"/>
<circle cx="553.5" cy="1145.5" r="4.36"/>
<circle cx="555.5" cy="1145.5" r="4.36"/>
<circle cx="556.5" cy="1145.5" r="4.36"/>
<circle cx="558.5" cy="1145.5" r="4.36"/>
<circle cx="559.5" cy="1145.5" r="4.36"/>
<circle cx="561.5" cy="1145.5" r="4.36"/>
<circle cx="562.5" cy="1145.5" r="4.36"/>
<circle cx="580.5" cy="1145.5" r="4.36"/>
<circle cx="581.5" cy="1145.5" r="4.36"/>
<circle cx="582.5" cy="1145.5" r="4.36"/>
<circle cx="584.5" cy="1145.5" r="4.36"/>
<circle cx="585.5" cy="1145.5" r="4.36"/>
<circle cx="587.5" cy="1145.5" r="4.36"/>
<circle cx="588.5" cy="1145.5" r="4.36"/>
<circle cx="590.5" cy="1145.5" r="4.36"/>
<circle cx="591.5" cy="1145.5" r="4.36"/>
<circle cx="593.5" cy="1145.5" r="4.36"/>
<circle cx="594.5" cy="1145.5" r="4.36"/>
<circle cx="595.5" cy="1145.5" r="4.36"/>
<circle cx="597.5" cy="1145.5" r="4.36"/>
<circle cx="598.5" cy="1145.5" r="4.36"/>
<circle cx="600.5" cy="1145.5" r="4.36"/>
<circle cx="601.5" cy="1145.5" r="4.36"/>
<circle cx="603.5" cy="1145.5" r="4.36"/>
<circle cx="604.5" cy="1145.5" r="4.36"/>
<circle cx="606.5" cy="1145.5" r="4.36"/>
<circle cx="607.5" cy="1145.5" r="4.36"/>
<circle cx="608.5" cy="1145.5" r="4.36"/>
<circle cx="610.5" cy="1145.5" r="4.36"/>
<circle cx="611.5" cy="1145.5" r="4.36"/>
<circle cx="613.5" cy="1145.5" r="4.36"/>
<circle cx="614.5" cy="1145.5" r="4.36"/>
<circle cx="616.5" cy="1145.5" r="4.36"/>
<circle cx="617.5" cy="1145.5" r="4.36"/>
<circle cx="619.5" cy="1145.5" r="4.36"/>
<circle cx="620.5" cy="1145.5" r="4.36"/>
<circle cx="621.5" cy="1145.5" r="4.36"/>
<circle cx="623.5" cy="1145.5" r="4.36"/>
<circle cx="624.5" cy="1145.5" r="4.36"/>
<circle cx="626.5" cy="1145.5" r="4.36"/>
<circle cx="627.5" cy="1145.5" r="4.36"/>
<circle cx="629.5" cy="1145.5" r="4.36"/>
<circle cx="630.5" cy="1145.5" r="4.36"/>
<circle cx="632.5" cy="1145.5" r="4.36"/>
<circle cx="633.5" cy="1145.5" r="4.36"/>
<circle cx="634.5" cy="1145.5" r="4.36"/>
<circle cx="636.5" cy="1145.5" r="4.36"/>
<circle cx="637.5" cy="1145.5" r="4.36"/>
<circle cx="639.5" cy="1145.5" r="4.36"/>
<circle cx="640.5" cy="1145.5" r="4.36"/>
<circle cx="642.5" cy="1145.5" r="4.36"/>
<circle cx="643.5" cy="1145.5" r="4.36"/>
<circle cx="645.5" cy="1145.5" r="4.36"/>
<circle cx="646.5" cy="1145.5" r="4.36"/>
<circle cx="648.5" cy="1145.5" r="4.36"/>
<circle cx="649.5" cy="1145.5" r="4.36"/>
<circle cx="650.5" cy="1145.5" r="4.36"/>
<circle cx="652.5" cy="1145.5" r="4.36"/>
<circle cx="653.5" cy="1145.5" r="4.36"/>
<circle cx="655.5" cy="1145.5" r="4.36"/>
<circle cx="656.5" cy="1145.5" r="4.36"/>
<circle cx="658.5" cy="1145.5" r="4.36"/>
<circle cx="659.5" cy="1145.5" r="4.36"/>
<circle cx="661.5" cy="1145.5" r="4.36"/>
<circle cx="662.5" cy="1145.5" r="4.36"/>
<circle cx="663.5" cy="1145.5" r="4.36"/>
<circle cx="665.5" cy="1145.5" r="4.36"/>
<circle cx="666.5" cy="1145.5" r="4.36"/>
<circle cx="668.5" cy="1145.5" r="4.36"/>
<circle cx="669.5" cy="1145.5" r="4.36"/>
<circle cx="671.5" cy="1145.5" r="4.36"/>
<circle cx="672.5" cy="1145.5" r="4.36"/>
<circle cx="674.5" cy="1145.5" r="4.36"/>
<circle cx="675.5" cy="1145.5" r="4.36"/>
<circle cx="676.5" cy="1145.5" r="4.36"/>
<circle cx="678.5" cy="1145.5" r="4.36"/>
<circle cx="679.5" cy="1145.5" r="4.36"/>
<circle cx="681.5" cy="1145.5" r="4.36"/>
<circle cx="682.5" cy="1145.5" r="4.36"/>
<circle cx="684.5" cy="1145.5" r="4.36"/>
<circle cx="685.5" cy="1145.5" r="4.36"/>
<circle cx="687.5" cy="1145.5" r="4.36"/>
<circle cx="688.5" cy="1145.5" r="4.36"/>
<circle cx="689.5" cy="1145.5" r="4.36"/>
<circle cx="691.5" cy="1145.5" r="4.36"/>
<circle cx="692.5" cy="1145.5" r="4.36"/>
<circle cx="694.5" cy="1145.5" r="4.36"/>
<circle cx="695.5" cy="1145.5" r="4.36"/>
<circle cx="697.5" cy="1145.5" r="4.36"/>
<circle cx="698.5" cy="1145.5" r="4.36"/>
<circle cx="700.5" cy="1145.5" r="4.36"/>
<circle cx="701.5" cy="1145.5" r="4.36"/>
<circle cx="703.5" cy="1145.5" r="4.36"/>
<circle cx="704.5" cy="1145.5" r="4.36"/>
<circle cx="705.5" cy="1145.5" r="4.36"/>
<circle cx="707.5" cy="1145.5" r="4.36"/>
<circle cx="708.5" cy="1145.5" r="4.36"/>
<circle cx="710.5" cy="1145.5" r="4.36"/>
<circle cx="711.5" cy="1145.5" r="4.36"/>
<circle cx="713.5" cy="1145.5" r="4.36"/>
<circle cx="714.5" cy="1145.5" r="4.36"/>
<circle cx="716.5" cy="1145.5" r="4.36"/>
<circle cx="717.5" cy="1145.5" r="4.36"/>
<circle cx="718.5" cy="1145.5" r="4.36"/>
<circle cx="720.5" cy="1145.5" r="4.36"/>
<circle cx="721.5" cy="1145.5" r="4.36"/>
<circle cx="723.5" cy="1145.5" r="4.36"/>
<circle cx="724.5" cy="1145.5" r="4.36"/>
<circle cx="726.5" cy="1145.5" r="4.36"/>
<circle cx="727.5" cy="1145.5" r="4.36"/>
<circle cx="729.5" cy="1145.5" r="4.36"/>
<circle cx="730.5" cy="1145.5" r="4.36"/>
<circle cx="731.5" cy="1145.5" r="4.36"/>
<circle cx="733.5" cy="1145.5" r="4.36"/>
<circle cx="734.5" cy="1145.5" r="4.36"/>
<circle cx="736.5" cy="1145.5" r="4.36"/>
<circle cx="737.5" cy="1145.5" r="4.36"/>
<circle cx="739.5" cy="1145.5" r="4.36"/>
<circle cx="740.5" cy="1145.5" r="4.36"/>
<circle cx="742.5" cy="1145.5" r="4.36"/>
<circle cx="743.5" cy="1145.5" r="4.36"/>
<circle cx="744.5" cy="1145.5" r="4.36"/>
<circle cx="746.5" cy="1145.5" r="4.36"/>
<circle cx="747.5" cy="1145.5" r="4.36"/>
<circle cx="749.5" cy="1145.5" r="4.36"/>
<circle cx="750.5" cy="1145.5" r="4.36"/>
<circle cx="752.5" cy="1145.5" r="4.36"/>
<circle cx="753.5" cy="1145.5" r="4.36"/>
<circle cx="755.5" cy="1145.5" r="4.36"/>
<circle cx="756.5" cy="1145.5" r="4.36"/>
<circle cx="758.5" cy="1145.5" r="4.36"/>
<circle cx="759.5" cy="1145.5" r="4.36"/>
<circle cx="760.5" cy="1145.5" r="4.36"/>
<circle cx="762.5" cy="1145.5" r="4.36"/>
<circle cx="763.5" cy="1145.5" r="4.36"/>
<circle cx="765.5" cy="1145.5" r="4.36"/>
<circle cx="766.5" cy="1145.5" r="4.36"/>
<circle cx="768.5" cy="1145.5" r="4.36"/>
<circle cx="769.5" cy="1145.5" r="4.36"/>
<circle cx="771.5" cy="1145.5" r="4.36"/>
<circle cx="772.5" cy="1145.5" r="4.36"/>
<circle cx="773.5" cy="1145.5" r="4.36"/>
<circle cx="775.5" cy="1145.5" r="4.36"/>
<circle cx="776.5" cy="1145.5" r="4.36"/>
<circle cx="778.5" cy="1145.5" r="4.36"/>
<circle cx="779.5" cy="1145.5" r="4.36"/>
<circle cx="781.5" cy="1145.5" r="4.36"/>
<circle cx="782.5" cy="1145.5" r="4.36"/>
<circle cx="784.5" cy="1145.5" r="4.36"/>
<circle cx="151.5" cy="1137.5" r="4.36"/>
<circle cx="199.5" cy="1137.5" r="4.36"/>
<circle cx="206.5" cy="1137.5" r="4.36"/>
<circle cx="235.5" cy="1137.5" r="4.36"/>
<circle cx="241.5" cy="1137.5" r="4.36"/>
<circle cx="325.5" cy="1137.5" r="4.36"/>
<circle cx="105.5" cy="1129.5" r="4.36"/>
<circle cx="225.5" cy="1129.5" r="4.36"/>
<circle cx="322.5" cy="1129.5" r="4.36"/>
<circle cx="328.5" cy="1129.5" r="4.36"/>
<circle cx="364.5" cy="1129.5" r="4.36"/>
<circle cx="403.5" cy="1129.5" r="4.36"/>
<circle cx="401.5" cy="1129.5" r="4.36"/>
<circle cx="432.5" cy="1129.5" r="4.36"/>
<circle cx="439.5" cy="1129.5" r="4.36"/>
<circle cx="445.5" cy="1129.5" r="4.36"/>
<circle cx="451.5" cy="1129.5" r="4.36"/>
<circle cx="456.5" cy="1129.5" r="4.36"/>
<circle cx="464.5" cy="1129.5" r="4.36"/>
<circle cx="480.5" cy="1129.5" r="4.36"/>
<circle cx="487.5" cy="1129.5" r="4.36"/>
<circle cx="496.5" cy="1129.5" r="4.36"/>
<circle cx="517.5" cy="1129.5" r="4.36"/>
<circle cx="526.5" cy="1129.5" r="4.36"/>
<circle cx="539.5" cy="1129.5" r="4.36"/>
<circle cx="546.5" cy="1129.5" r="4.36"/>
<circle cx="559.5" cy="1129.5" r="4.36"/>
<circle cx="566.5" cy="1129.5" r="4.36"/>
<circle cx="574.5" cy="1129.5" r="4.36"/>
<circle cx="584.5" cy="1129.5" r="4.36"/>
<circle cx="590.5" cy="1129.5" r="4.36"/>
<circle cx="591.5" cy="1129.5" r="4.36"/>
<circle cx="616.5" cy="1129.5" r="4.36"/>
<circle cx="687.5" cy="1129.5" r="4.36"/>
<circle cx="772.5" cy="1129.5" r="4.36"/>
<circle cx="776.5" cy="1129.5" r="4.36"/>
<circle cx="410.5" cy="1121.5" r="4.36"/>
<circle cx="459.5" cy="1121.5" r="4.36"/>
<circle cx="475.5" cy="1121.5" r="4.36"/>
<circle cx="485.5" cy="1121.5" r="4.36"/>
<circle cx="506.5" cy="1121.5" r="4.36"/>
<circle cx="535.5" cy="1121.5" r="4.36"/>
<circle cx="538.5" cy="1121.5" r="4.36"/>
<circle cx="608.5" cy="1121.5" r="4.36"/>
<circle cx="688.5" cy="1121.5" r="4.36"/>
<circle cx="759.5" cy="1121.5" r="4.36"/>
<circle cx="312.5" cy="1112.5" r="4.36"/>
<circle cx="360.5" cy="1112.5" r="4.36"/>
<circle cx="384.5" cy="1112.5" r="4.36"/>
<circle cx="406.5" cy="1112.5" r="4.36"/>
<circle cx="407.5" cy="1112.5" r="4.36"/>
<circle cx="425.5" cy="1112.5" r="4.36"/>
<circle cx="445.5" cy="1112.5" r="4.36"/>
<circle cx="449.5" cy="1112.5" r="4.36"/>
<circle cx="474.5" cy="1112.5" r="4.36"/>
<circle cx="497.5" cy="1112.5" r="4.36"/>
<circle cx="503.5" cy="1112.5" r="4.36"/>
<circle cx="507.5" cy="1112.5" r="4.36"/>
<circle cx="697.5" cy="1112.5" r="4.36"/>
<circle cx="462.5" cy="1104.5" r="4.36"/>
<circle cx="468.5" cy="1104.5" r="4.36"/>
<circle cx="357.5" cy="1096.5" r="4.36"/>
<circle cx="406.5" cy="1096.5" r="4.36"/>
<circle cx="465.5" cy="1096.5" r="4.36"/>
<circle cx="565.5" cy="1096.5" r="4.36"/>
<circle cx="467.5" cy="1088.5" r="4.36"/>
<circle cx="423.5" cy="1079.5" r="4.36"/>
<circle cx="456.5" cy="1071.5" r="4.36"/>
<circle cx="484.5" cy="1063.5" r="4.36"/>
<circle cx="500.5" cy="1063.5" r="4.36"/>
<circle cx="458.5" cy="1038.5" r="4.36"/>
<circle cx="443.5" cy="1022.5" r="4.36"/>
<circle cx="470.5" cy="981.5" r="4.36"/>
<circle cx="90.5" cy="1137.5" r="4.36"/>
<circle cx="92.5" cy="1137.5" r="4.36"/>
<circle cx="93.5" cy="1137.5" r="4.36"/>
<circle cx="95.5" cy="1137.5" r="4.36"/>
<circle cx="96.5" cy="1137.5" r="4.36"/>
<circle cx="108.5" cy="1137.5" r="4.36"/>
<circle cx="109.5" cy="1137.5" r="4.36"/>
<circle cx="111.5" cy="1137.5" r="4.36"/>
<circle cx="112.5" cy="1137.5" r="4.36"/>
<circle cx="113.5" cy="1137.5" r="4.36"/>
<circle cx="115.5" cy="1137.5" r="4.36"/>
<circle cx="116.5" cy="1137.5" r="4.36"/>
<circle cx="118.5" cy="1137.5" r="4.36"/>
<circle cx="261.5" cy="1137.5" r="4.36"/>
<circle cx="263.5" cy="1137.5" r="4.36"/>
<circle cx="264.5" cy="1137.5" r="4.36"/>
<circle cx="265.5" cy="1137.5" r="4.36"/>
<circle cx="267.5" cy="1137.5" r="4.36"/>
<circle cx="268.5" cy="1137.5" r="4.36"/>
<circle cx="270.5" cy="1137.5" r="4.36"/>
<circle cx="271.5" cy="1137.5" r="4.36"/>
<circle cx="273.5" cy="1137.5" r="4.36"/>
<circle cx="274.5" cy="1137.5" r="4.36"/>
<circle cx="276.5" cy="1137.5" r="4.36"/>
<circle cx="277.5" cy="1137.5" r="4.36"/>
<circle cx="278.5" cy="1137.5" r="4.36"/>
<circle cx="280.5" cy="1137.5" r="4.36"/>
<circle cx="281.5" cy="1137.5" r="4.36"/>
<circle cx="283.5" cy="1137.5" r="4.36"/>
<circle cx="284.5" cy="1137.5" r="4.36"/>
<circle cx="286.5" cy="1137.5" r="4.36"/>
<circle cx="287.5" cy="1137.5" r="4.36"/>
<circle cx="289.5" cy="1137.5" r="4.36"/>
<circle cx="290.5" cy="1137.5" r="4.36"/>
<circle cx="292.5" cy="1137.5" r="4.36"/>
<circle cx="293.5" cy="1137.5" r="4.36"/>
<circle cx="294.5" cy="1137.5" r="4.36"/>
<circle cx="296.5" cy="1137.5" r="4.36"/>
<circle cx="297.5" cy="1137.5" r="4.36"/>
<circle cx="299.5" cy="1137.5" r="4.36"/>
<circle cx="300.5" cy="1137.5" r="4.36"/>
<circle cx="302.5" cy="1137.5" r="4.36"/>
<circle cx="303.5" cy="1137.5" r="4.36"/>
<circle cx="305.5" cy="1137.5" r="4.36"/>
<circle cx="306.5" cy="1137.5" r="4.36"/>
<circle cx="307.5" cy="1137.5" r="4.36"/>
<circle cx="309.5" cy="1137.5" r="4.36"/>
<circle cx="310.5" cy="1137.5" r="4.36"/>
<circle cx="341.5" cy="1137.5" r="4.36"/>
<circle cx="342.5" cy="1137.5" r="4.36"/>
<circle cx="344.5" cy="1137.5" r="4.36"/>
<circle cx="345.5" cy="1137.5" r="4.36"/>
<circle cx="346.5" cy="1137.5" r="4.36"/>
<circle cx="348.5" cy="1137.5" r="4.36"/>
<circle cx="349.5" cy="1137.5" r="4.36"/>
<circle cx="371.5" cy="1137.5" r="4.36"/>
<circle cx="391.5" cy="1137.5" r="4.36"/>
<circle cx="407.5" cy="1137.5" r="4.36"/>
<circle cx="428.5" cy="1137.5" r="4.36"/>
<circle cx="432.5" cy="1137.5" r="4.36"/>
<circle cx="433.5" cy="1137.5" r="4.36"/>
<circle cx="435.5" cy="1137.5" r="4.36"/>
<circle cx="436.5" cy="1137.5" r="4.36"/>
<circle cx="438.5" cy="1137.5" r="4.36"/>
<circle cx="439.5" cy="1137.5" r="4.36"/>
<circle cx="441.5" cy="1137.5" r="4.36"/>
<circle cx="449.5" cy="1137.5" r="4.36"/>
<circle cx="455.5" cy="1137.5" r="4.36"/>
<circle cx="471.5" cy="1137.5" r="4.36"/>
<circle cx="478.5" cy="1137.5" r="4.36"/>
<circle cx="484.5" cy="1137.5" r="4.36"/>
<circle cx="490.5" cy="1137.5" r="4.36"/>
<circle cx="491.5" cy="1137.5" r="4.36"/>
<circle cx="493.5" cy="1137.5" r="4.36"/>
<circle cx="494.5" cy="1137.5" r="4.36"/>
<circle cx="496.5" cy="1137.5" r="4.36"/>
<circle cx="497.5" cy="1137.5" r="4.36"/>
<circle cx="498.5" cy="1137.5" r="4.36"/>
<circle cx="500.5" cy="1137.5" r="4.36"/>
<circle cx="501.5" cy="1137.5" r="4.36"/>
<circle cx="503.5" cy="1137.5" r="4.36"/>
<circle cx="504.5" cy="1137.5" r="4.36"/>
<circle cx="506.5" cy="1137.5" r="4.36"/>
<circle cx="507.5" cy="1137.5" r="4.36"/>
<circle cx="509.5" cy="1137.5" r="4.36"/>
<circle cx="510.5" cy="1137.5" r="4.36"/>
<circle cx="511.5" cy="1137.5" r="4.36"/>
<circle cx="513.5" cy="1137.5" r="4.36"/>
<circle cx="514.5" cy="1137.5" r="4.36"/>
<circle cx="516.5" cy="1137.5" r="4.36"/>
<circle cx="517.5" cy="1137.5" r="4.36"/>
<circle cx="519.5" cy="1137.5" r="4.36"/>
<circle cx="520.5" cy="1137.5" r="4.36"/>
<circle cx="522.5" cy="1137.5" r="4.36"/>
<circle cx="523.5" cy="1137.5" r="4.36"/>
<circle cx="525.5" cy="1137.5" r="4.36"/>
<circle cx="526.5" cy="1137.5" r="4.36"/>
<circle cx="527.5" cy="1137.5" r="4.36"/>
<circle cx="529.5" cy="1137.5" r="4.36"/>
<circle cx="530.5" cy="1137.5" r="4.36"/>
<circle cx="553.5" cy="1137.5" r="4.36"/>
<circle cx="572.5" cy="1137.5" r="4.36"/>
<circle cx="574.5" cy="1137.5" r="4.36"/>
<circle cx="575.5" cy="1137.5" r="4.36"/>
<circle cx="577.5" cy="1137.5" r="4.36"/>
<circle cx="578.5" cy="1137.5" r="4.36"/>
<circle cx="580.5" cy="1137.5" r="4.36"/>
<circle cx="581.5" cy="1137.5" r="4.36"/>
<circle cx="582.5" cy="1137.5" r="4.36"/>
<circle cx="584.5" cy="1137.5" r="4.36"/>
<circle cx="585.5" cy="1137.5" r="4.36"/>
<circle cx="587.5" cy="1137.5" r="4.36"/>
<circle cx="590.5" cy="1137.5" r="4.36"/>
<circle cx="600.5" cy="1137.5" r="4.36"/>
<circle cx="607.5" cy="1137.5" r="4.36"/>
<circle cx="619.5" cy="1137.5" r="4.36"/>
<circle cx="645.5" cy="1137.5" r="4.36"/>
<circle cx="665.5" cy="1137.5" r="4.36"/>
<circle cx="675.5" cy="1137.5" r="4.36"/>
<circle cx="679.5" cy="1137.5" r="4.36"/>
<circle cx="688.5" cy="1137.5" r="4.36"/>
<circle cx="694.5" cy="1137.5" r="4.36"/>
<circle cx="698.5" cy="1137.5" r="4.36"/>
<circle cx="749.5" cy="1137.5" r="4.36"/>
</g>
<line x1="744" x2="744" y1="1144.95" y2="593.5" stroke="#1f77b4" stroke-opacity="0.5" stroke-width="2.08" stroke-dasharray="7.708 3.333"/>
</g>
<rect x="60.5" y="594.5" width="725" height="551" fill="none" stroke="#000" stroke-width="1.11"/>
<line x1="55.64" x2="60.5" y1="1145.5" y2="1145.5" stroke="#000" stroke-width="1.11"/>
<text class="t" x="50.2" y="1151.1" font-size="13.889" text-anchor="end">0</text>
<line x1="55.64" x2="60.5" y1="1063.5" y2="1063.5" stroke="#000" stroke-width="1.11"/>
<text class="t" x="49.2" y="1068.1" font-size="13.889" text-anchor="end">10</text>
<line x1="55.64" x2="60.5" y1="981.5" y2="981.5" stroke="#000" stroke-width="1.11"/>
<text class="t" x="49.2" y="986.1" font-size="13.889" text-anchor="end">20</text>
<line x1="55.64" x2="60.5" y1="898.5" y2="898.5" stroke="#000" stroke-width="1.11"/>
<text class="t" x="49.2" y="904.1" font-size="13.889" text-anchor="end">30</text>
<line x1="55.64" x2="60.5" y1="816.5" y2="816.5" stroke="#000" stroke-width="1.11"/>
<text class="t" x="49.2" y="821.1" font-size="13.889" text-anchor="end">40</text>
<line x1="55.64" x2="60.5" y1="734.5" y2="734.5" stroke="#000" stroke-width="1.11"/>
<text class="t" x="49.2" y="739.1" font-size="13.889" text-anchor="end">50</text>
<line x1="55.64" x2="60.5" y1="651.5" y2="651.5" stroke="#000" stroke-width="1.11"/>
<text class="t" x="50.35" y="657.1" font-size="13.889" text-anchor="end">60</text>
<line x1="60.5" x2="60.5" y1="1145.5" y2="1150.36" stroke="#000" stroke-width="1.11"/>
<line x1="100.5" x2="100.5" y1="1145.5" y2="1150.36" stroke="#000" stroke-width="1.11"/>
<text class="m" x="100.45" y="1165.8" font-size="13.889" text-anchor="middle">Apr</text>
<line x1="144.5" x2="144.5" y1="1145.5" y2="1148.28" stroke="#000" stroke-width="0.83"/>
<line x1="189.5" x2="189.5" y1="1145.5" y2="1148.28" stroke="#000" stroke-width="0.83"/>
<line x1="232.5" x2="232.5" y1="1145.5" y2="1150.36" stroke="#000" stroke-width="1.11"/>
<text class="m" x="231.95" y="1165.8" font-size="13.889" text-anchor="middle">Jul</text>
<line x1="277.5" x2="277.5" y1="1145.5" y2="1148.28" stroke="#000" stroke-width="0.83"/>
<line x1="322.5" x2="322.5" y1="1145.5" y2="1148.28" stroke="#000" stroke-width="0.83"/>
<line x1="365.5" x2="365.5" y1="1145.5" y2="1150.36" stroke="#000" stroke-width="1.11"/>
<text class="m" x="365.65" y="1165.8" font-size="13.889" text-anchor="middle">Oct</text>
<line x1="410.5" x2="410.5" y1="1145.5" y2="1148.28" stroke="#000" stroke-width="0.83"/>
<line x1="454.5" x2="454.5" y1="1145.5" y2="1148.28" stroke="#000" stroke-width="0.83"/>
<line x1="498.5" x2="498.5" y1="1145.5" y2="1150.36" stroke="#000" stroke-width="1.11"/>
<text class="m" x="498.65" y="1165.8" font-size="13.889" text-anchor="middle">Jan</text>
<text x="498.5" y="1182" font-size="13.889" text-anchor="middle">2021</text>
<line x1="543.5" x2="543.5" y1="1145.5" y2="1148.28" stroke="#000" stroke-width="0.83"/>
<line x1="584.5" x2="584.5" y1="1145.5" y2="1148.28" stroke="#000" stroke-width="0.83"/>
<line x1="629.5" x2="629.5" y1="1145.5" y2="1150.36" stroke="#000" stroke-width="1.11"/>
<text class="m" x="628.75" y="1165.8" font-size="13.889" text-anchor="middle">Apr</text>
<line x1="672.5" x2="672.5" y1="1145.5" y2="1148.28" stroke="#000" stroke-width="0.83"/>
<line x1="717.5" x2="717.5" y1="1145.5" y2="1148.28" stroke="#000" stroke-width="0.83"/>
<line x1="760.5" x2="760.5" y1="1145.5" y2="1150.36" stroke="#000" stroke-width="1.11"/>
<text class="m" x="759.35" y="1165.8" font-size="13.889" text-anchor="middle">Jul</text>
<line x1="785.5" x2="785.5" y1="1145.5" y2="1150.36" stroke="#000" stroke-width="1.11"/>
<rect x="67.4" y="601.4" width="135.1" height="24.4" rx="2.8" ry="2.8" fill="#fff" fill-opacity="0.8" stroke="#ccc" stroke-opacity="0.8" stroke-width="1.11"/>
<line x1="71.1" x2="101.1" y1="612" y2="612" stroke="#1f77b4" stroke-width="2.08"/>
<text x="111.1" y="617.2" font-size="13.889" textLength="85.1" lengthAdjust="spacing">daily deaths</text>
<text x="397.4" y="36" font-size="16.667" text-anchor="middle">Alaska 28 days</text>
</svg></body></html>
